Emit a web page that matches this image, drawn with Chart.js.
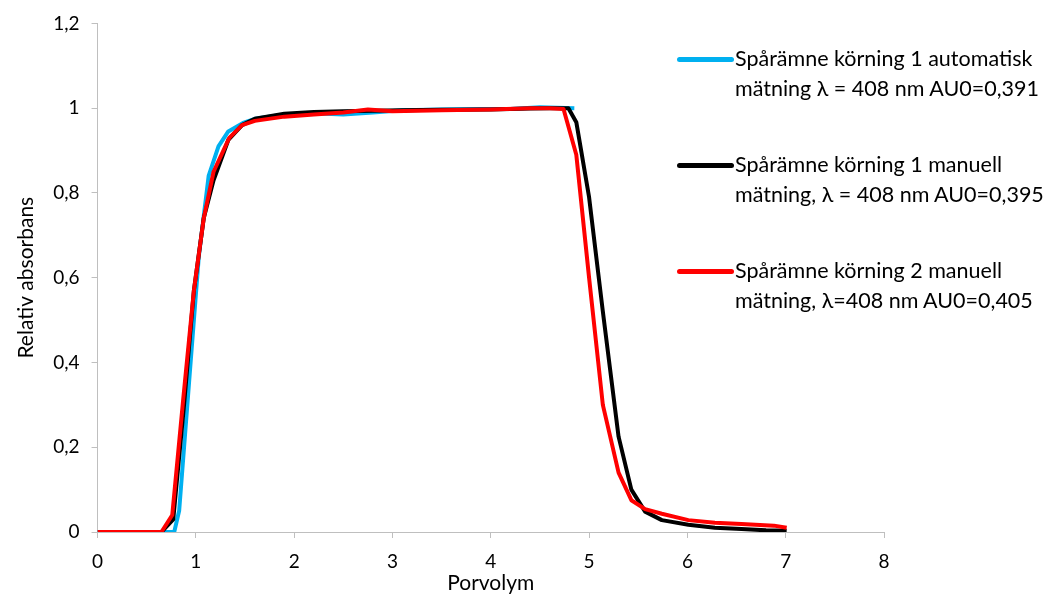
<!DOCTYPE html>
<html>
<head>
<meta charset="utf-8">
<script src="https://cdn.jsdelivr.net/npm/chart.js@4.4.0/dist/chart.umd.min.js"></script>
<style>
  html, body { margin: 0; padding: 0; background: #fff; }
  .wrap { position: relative; width: 1050px; height: 594px; }
  #myChart { position: absolute; left: 0; top: 0; }
  #chart-legend { position: absolute; left: 677px; top: 43px; font-family: Lato, "Open Sans", sans-serif; font-size: 21.5px; color: #000; }
  .legend-item { position: relative; height: 106px; }
  .legend-color { position: absolute; left: 0; top: 14px; width: 57px; height: 5px; border-radius: 3px; }
  .legend-label { position: absolute; left: 58px; top: 0; line-height: 30px; white-space: nowrap; }
</style>
</head>
<body>
<div class="wrap">
  <canvas id="myChart" width="1050" height="594"></canvas>
  <div id="chart-legend"></div>
</div>
<script>
// Sample data
const autoX = [0, 0.33, 0.65, 0.78, 0.83, 0.93, 1.03, 1.13, 1.23, 1.33, 1.48, 1.6, 1.9, 2.2, 2.5, 2.8, 3.1, 3.5, 3.9, 4.2, 4.5, 4.85];
const autoY = [0, 0, 0, 0, 0.05, 0.35, 0.65, 0.84, 0.91, 0.945, 0.965, 0.975, 0.985, 0.988, 0.985, 0.99, 0.995, 0.997, 0.998, 0.998, 1.002, 1.0];

const man1X = [0, 0.33, 0.65, 0.77, 0.88, 0.98, 1.08, 1.18, 1.33, 1.47, 1.6, 1.9, 2.2, 2.5, 2.8, 3.1, 3.5, 4.0, 4.4, 4.6, 4.79, 4.87, 5.0, 5.14, 5.3, 5.43, 5.57, 5.74, 6.01, 6.28, 6.55, 6.8, 7.01];
const man1Y = [0, 0, 0, 0.03, 0.3, 0.57, 0.74, 0.83, 0.925, 0.96, 0.975, 0.987, 0.991, 0.993, 0.994, 0.995, 0.996, 0.997, 0.999, 1.0, 1.0, 0.967, 0.79, 0.52, 0.225, 0.1, 0.048, 0.028, 0.017, 0.01, 0.007, 0.004, 0.003];

const man2X = [0, 0.33, 0.65, 0.76, 0.87, 0.98, 1.08, 1.18, 1.34, 1.47, 1.6, 1.9, 2.2, 2.5, 2.75, 3.0, 3.5, 4.0, 4.4, 4.6, 4.74, 4.87, 5.0, 5.14, 5.3, 5.43, 5.57, 5.74, 6.01, 6.28, 6.55, 6.88, 7.01];
const man2Y = [0, 0, 0, 0.04, 0.31, 0.57, 0.74, 0.85, 0.93, 0.96, 0.97, 0.98, 0.985, 0.99, 0.997, 0.993, 0.995, 0.997, 1.0, 1.0, 0.998, 0.89, 0.6, 0.3, 0.14, 0.075, 0.054, 0.043, 0.028, 0.022, 0.019, 0.015, 0.01];

const seriesLabels = [
  ['Spårämne körning 1 automatisk', 'mätning λ = 408 nm AU0=0,391'],
  ['Spårämne körning 1 manuell', 'mätning, λ = 408 nm AU0=0,395'],
  ['Spårämne körning 2 manuell', 'mätning, λ=408 nm AU0=0,405']
];
const seriesColors = ['#00B0F0', '#000000', '#FF0000'];

function toPoints(xs, ys) {
  return xs.map((x, i) => ({ x: x, y: ys[i] }));
}

const font = { family: 'Lato, "Open Sans", sans-serif', size: 19 };
const xTickFont = { family: 'Lato, "Open Sans", sans-serif', size: 19, lineHeight: 1 };
const titleFont = { family: 'Lato, "Open Sans", sans-serif', size: 21 };
const xTitleFont = { family: 'Lato, "Open Sans", sans-serif', size: 21, lineHeight: 1 };
const axisGray = '#BFBFBF';

const ctx = document.getElementById('myChart').getContext('2d');
const myChart = new Chart(ctx, {
  type: 'scatter',
  data: {
    datasets: [
      // red drawn on top, then black, then blue
      { label: seriesLabels[0].join(' '), data: toPoints(autoX, autoY), borderColor: seriesColors[0], order: 3 },
      { label: seriesLabels[1].join(' '), data: toPoints(man1X, man1Y), borderColor: seriesColors[1], order: 2 },
      { label: seriesLabels[2].join(' '), data: toPoints(man2X, man2Y), borderColor: seriesColors[2], order: 1 }
    ].map(d => Object.assign(d, {
      showLine: true,
      borderWidth: 4,
      pointRadius: 0,
      tension: 0,
      borderJoinStyle: 'round',
      fill: false
    }))
  },
  options: {
    responsive: false,
    animation: false,
    layout: { padding: { top: 16, right: 166, bottom: 0, left: 12 } },
    scales: {
      x: {
        type: 'linear',
        min: 0,
        max: 8,
        ticks: { stepSize: 1, color: '#000', font: xTickFont, padding: 14 },
        grid: { display: true, drawOnChartArea: false, drawTicks: true, tickLength: 6, color: axisGray },
        border: { color: axisGray },
        title: { display: true, text: 'Porvolym', color: '#000', font: xTitleFont, padding: { top: -12, bottom: 0 } }
      },
      y: {
        min: 0,
        max: 1.2,
        ticks: {
          stepSize: 0.2,
          color: '#000',
          font: font,
          padding: 12,
          callback: function (value) {
            return String(Math.round(value * 10) / 10).replace('.', ',');
          }
        },
        grid: { display: true, drawOnChartArea: false, drawTicks: true, tickLength: 6, color: axisGray },
        border: { color: axisGray },
        title: { display: true, text: 'Relativ absorbans', color: '#000', font: titleFont, padding: 2 }
      }
    },
    plugins: {
      legend: { display: false },
      tooltip: { enabled: false }
    }
  }
});

// Custom legend
const chartLegend = document.getElementById('chart-legend');
myChart.data.datasets.forEach((dataset, index) => {
  const legendItem = document.createElement('div');
  legendItem.classList.add('legend-item');

  const legendColor = document.createElement('span');
  legendColor.classList.add('legend-color');
  legendColor.style.backgroundColor = dataset.borderColor;

  const legendLabel = document.createElement('span');
  legendLabel.classList.add('legend-label');
  legendLabel.innerHTML = seriesLabels[index].join('<br>');

  legendItem.appendChild(legendColor);
  legendItem.appendChild(legendLabel);
  chartLegend.appendChild(legendItem);
});
</script>
</body>
</html>
